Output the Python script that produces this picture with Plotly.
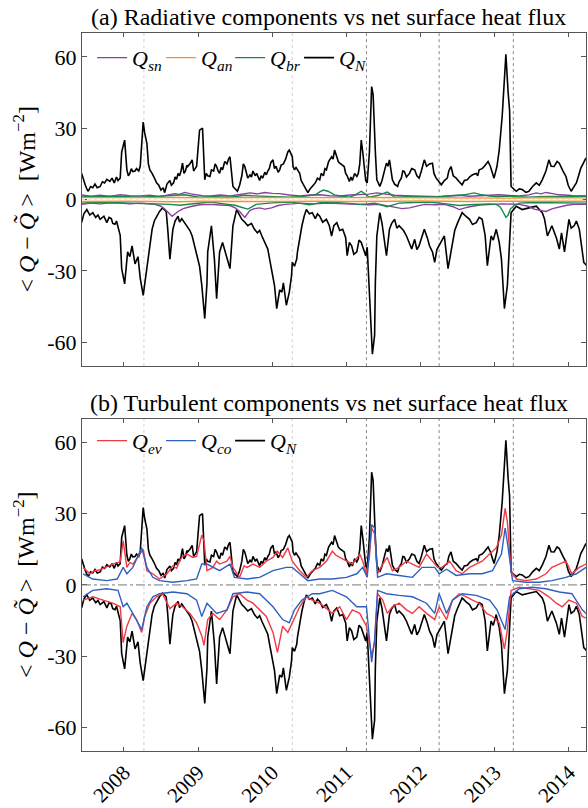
import plotly.graph_objects as go

# ---------------- data (decimal years, W m^-2) ----------------
YEARS = [2008, 2009, 2010, 2011, 2012, 2013, 2014]
YEAR_LABELS = ["2008", "2009", "2010", "2011", "2012", "2013", "2014"]
Y_TICKS = [-60, -30, 0, 30, 60]
Y_TICK_LABELS = ["-60", "-30", "0", "30", "60"]
EVENTS_LIGHT = [2008.27, 2010.27]
EVENTS_DARK = [2011.27, 2012.25, 2013.25]

# net surface heat flux Q_N: upper / lower envelope (t, value)
QN_UP = [(2007.43, 11), (2007.45, 8.5), (2007.48, 6), (2007.50, 4.5), (2007.52, 3.5), (2007.55, 5.5),
         (2007.58, 5), (2007.61, 6.5), (2007.64, 5), (2007.68, 5.5), (2007.71, 7.5), (2007.74, 7),
         (2007.77, 8.5), (2007.81, 7.6), (2007.84, 9), (2007.87, 7), (2007.90, 9.5), (2007.92, 8),
         (2007.95, 9), (2007.97, 20), (2008.01, 25), (2008.04, 12.5), (2008.06, 10), (2008.08, 11),
         (2008.10, 13), (2008.12, 11.8), (2008.15, 12), (2008.17, 13), (2008.20, 12), (2008.22, 14),
         (2008.26, 32.6), (2008.28, 28), (2008.31, 23.6), (2008.33, 15), (2008.35, 12.5), (2008.38, 11),
         (2008.40, 10), (2008.42, 8.5), (2008.44, 7), (2008.47, 6), (2008.50, 4), (2008.53, 5),
         (2008.55, 2.9), (2008.58, 6.5), (2008.62, 8), (2008.64, 6), (2008.67, 7), (2008.69, 9.5),
         (2008.71, 8.5), (2008.73, 11), (2008.75, 10), (2008.77, 12), (2008.79, 15.3), (2008.81, 11),
         (2008.83, 12), (2008.85, 14.5), (2008.86, 13.9), (2008.89, 15), (2008.92, 16.7), (2008.94, 12),
         (2008.96, 13), (2008.98, 13.9), (2009.02, 29.2), (2009.06, 30), (2009.09, 8.3), (2009.11, 11),
         (2009.13, 10), (2009.16, 9.7), (2009.18, 12.5), (2009.21, 12), (2009.23, 15), (2009.25, 13.9),
         (2009.27, 12), (2009.29, 11), (2009.31, 13.5), (2009.33, 12.5), (2009.36, 16), (2009.39, 15),
         (2009.41, 17), (2009.43, 18), (2009.47, 5.5), (2009.50, 4.5), (2009.53, 3.5), (2009.56, 6),
         (2009.59, 10), (2009.61, 15), (2009.63, 13.9), (2009.65, 11.5), (2009.67, 9), (2009.70, 10.4),
         (2009.72, 9.5), (2009.74, 12), (2009.77, 10), (2009.79, 11), (2009.81, 9.5), (2009.83, 8),
         (2009.85, 10), (2009.87, 9), (2009.90, 11.5), (2009.92, 10.4), (2009.94, 12), (2009.96, 13),
         (2009.98, 15.5), (2010.01, 16.7), (2010.03, 13), (2010.05, 14), (2010.08, 11.5), (2010.10, 12.5),
         (2010.12, 14.5), (2010.15, 15), (2010.18, 17), (2010.21, 20), (2010.23, 20.8), (2010.27, 18),
         (2010.28, 14), (2010.30, 12.5), (2010.32, 13.5), (2010.34, 12.5), (2010.37, 11), (2010.39, 8),
         (2010.41, 7), (2010.44, 5), (2010.48, 2.9), (2010.51, 4.5), (2010.54, 5.5), (2010.56, 6.5),
         (2010.58, 7), (2010.61, 9), (2010.64, 8.3), (2010.66, 11), (2010.69, 10), (2010.71, 13),
         (2010.73, 12.5), (2010.76, 16), (2010.80, 18), (2010.82, 17), (2010.84, 20.8), (2010.88, 17),
         (2010.89, 16), (2010.91, 15.3), (2010.94, 14.5), (2010.97, 13.9), (2010.99, 11), (2011.01, 10),
         (2011.04, 7.6), (2011.06, 9.5), (2011.08, 8), (2011.11, 11), (2011.14, 9.7), (2011.16, 11),
         (2011.18, 15), (2011.20, 25), (2011.22, 20), (2011.24, 12.5), (2011.26, 8), (2011.28, 7),
         (2011.31, 20), (2011.34, 47.5), (2011.36, 44), (2011.39, 20), (2011.41, 8.3), (2011.43, 7),
         (2011.45, 5.5), (2011.48, 8), (2011.50, 10), (2011.52, 13), (2011.54, 15.3), (2011.56, 14),
         (2011.58, 16.7), (2011.60, 12), (2011.62, 8.3), (2011.65, 6.5), (2011.69, 5.5), (2011.71, 7.5),
         (2011.74, 9), (2011.76, 12), (2011.78, 11.8), (2011.81, 9.5), (2011.85, 11), (2011.88, 13),
         (2011.92, 12.5), (2011.95, 10), (2011.98, 9), (2012.01, 12), (2012.05, 16.7), (2012.08, 14),
         (2012.12, 15), (2012.16, 15.3), (2012.18, 11), (2012.21, 9), (2012.25, 7.5), (2012.28, 6.2),
         (2012.32, 8), (2012.36, 9), (2012.38, 12), (2012.41, 13.9), (2012.44, 10), (2012.48, 9),
         (2012.52, 7.5), (2012.56, 6.2), (2012.59, 8), (2012.63, 8.3), (2012.66, 9.5), (2012.70, 10.4),
         (2012.75, 11), (2012.77, 10), (2012.79, 12.5), (2012.83, 13), (2012.86, 14), (2012.89, 15.3),
         (2012.91, 16), (2012.94, 14), (2012.97, 11), (2012.99, 9), (2013.03, 14), (2013.06, 20.8),
         (2013.10, 35), (2013.14, 55), (2013.15, 61), (2013.18, 45), (2013.20, 37.5), (2013.22, 5.5),
         (2013.25, 4.5), (2013.29, 3.5), (2013.33, 4.5), (2013.37, 4.2), (2013.42, 3), (2013.46, 3.5),
         (2013.51, 5.5), (2013.56, 7), (2013.60, 6), (2013.64, 8.3), (2013.69, 12), (2013.73, 16.7),
         (2013.76, 14), (2013.80, 13.9), (2013.84, 16), (2013.87, 15.3), (2013.92, 12), (2013.96, 9.7),
         (2013.99, 6), (2014.03, 3.5), (2014.06, 5), (2014.10, 7), (2014.13, 10), (2014.16, 13.2),
         (2014.19, 15), (2014.23, 17.5)]

QN_LO = [(2007.43, -9.7), (2007.46, -6), (2007.50, -4.2), (2007.54, -6.5), (2007.58, -5.5), (2007.62, -7.5),
         (2007.65, -6.5), (2007.68, -8.3), (2007.73, -7), (2007.77, -9.7), (2007.80, -7.5), (2007.83, -8),
         (2007.85, -10), (2007.88, -10.4), (2007.90, -9), (2007.92, -11), (2007.95, -15), (2007.97, -29),
         (2008.01, -35.4), (2008.05, -22), (2008.08, -24), (2008.11, -19.5), (2008.15, -27), (2008.19, -24),
         (2008.22, -33), (2008.26, -40.3), (2008.31, -27.8), (2008.35, -18), (2008.38, -12.5), (2008.41, -9),
         (2008.44, -7), (2008.48, -5), (2008.52, -3.5), (2008.57, -5), (2008.59, -12), (2008.62, -25),
         (2008.66, -12.5), (2008.69, -9), (2008.73, -7), (2008.75, -9.5), (2008.78, -8), (2008.82, -9.7),
         (2008.85, -11), (2008.89, -13), (2008.92, -15.3), (2008.95, -19), (2008.98, -22), (2009.02, -28),
         (2009.05, -36), (2009.09, -50), (2009.12, -35), (2009.13, -22), (2009.18, -11), (2009.22, -25),
         (2009.25, -41.7), (2009.29, -22), (2009.33, -18), (2009.36, -21), (2009.39, -25), (2009.43, -29),
         (2009.47, -11), (2009.52, -4.2), (2009.55, -6), (2009.59, -8.3), (2009.63, -9.5), (2009.67, -11),
         (2009.72, -10), (2009.76, -12.5), (2009.80, -14), (2009.83, -13), (2009.86, -15.3), (2009.90, -18),
         (2009.94, -20.8), (2009.97, -26), (2010.01, -33), (2010.03, -36), (2010.06, -45.8), (2010.10, -38),
         (2010.13, -38.9), (2010.15, -35), (2010.19, -44.4), (2010.23, -38.9), (2010.26, -32), (2010.27, -26.4),
         (2010.30, -28), (2010.33, -25), (2010.34, -22), (2010.37, -16), (2010.40, -11), (2010.43, -7),
         (2010.46, -4.2), (2010.50, -6), (2010.54, -5.5), (2010.58, -8), (2010.61, -6), (2010.64, -7),
         (2010.68, -9.5), (2010.73, -8.3), (2010.77, -11), (2010.80, -15.3), (2010.83, -11), (2010.87, -9.7),
         (2010.91, -13), (2010.95, -12.5), (2010.99, -16), (2011.01, -23.6), (2011.04, -18), (2011.07, -19.4),
         (2011.10, -23), (2011.14, -22), (2011.17, -17), (2011.20, -18), (2011.23, -21), (2011.26, -23.6),
         (2011.28, -20), (2011.31, -40), (2011.34, -62.5), (2011.35, -65), (2011.38, -57), (2011.39, -35),
         (2011.41, -15.3), (2011.45, -5.5), (2011.48, -10), (2011.51, -18), (2011.54, -23.6), (2011.58, -12.5),
         (2011.61, -10), (2011.65, -8.3), (2011.68, -12), (2011.71, -11), (2011.77, -13), (2011.81, -15.3),
         (2011.84, -18), (2011.88, -20.8), (2011.92, -16.7), (2011.95, -21), (2011.98, -19.4), (2012.02, -15),
         (2012.05, -12.5), (2012.09, -16), (2012.12, -19.4), (2012.16, -22), (2012.19, -26.4), (2012.22, -21),
         (2012.25, -19.4), (2012.29, -17), (2012.32, -15.3), (2012.37, -29), (2012.43, -19.4), (2012.46, -13),
         (2012.50, -9.7), (2012.56, -5.5), (2012.61, -7), (2012.66, -8.3), (2012.70, -10.5), (2012.75, -9.7),
         (2012.79, -7.5), (2012.83, -8.3), (2012.87, -15), (2012.90, -27.8), (2012.95, -15.3), (2012.98, -17),
         (2013.02, -12.5), (2013.06, -18), (2013.09, -25), (2013.13, -45.8), (2013.17, -36), (2013.20, -20),
         (2013.22, -5.5), (2013.29, -2.8), (2013.37, -4.2), (2013.46, -3.5), (2013.56, -2.8), (2013.64, -5.5),
         (2013.67, -8), (2013.71, -15.3), (2013.77, -11), (2013.83, -16), (2013.87, -20.8), (2013.90, -14),
         (2013.94, -22), (2014.00, -8.3), (2014.03, -12), (2014.07, -11), (2014.10, -9), (2014.14, -12.5),
         (2014.17, -20), (2014.20, -26.4), (2014.24, -27.8)]

# evaporative component Q_ev
QEV_UP = [(2007.45, 7.4), (2007.54, 4.7), (2007.61, 6), (2007.68, 6.4), (2007.76, 7.5), (2007.85, 8.8),
          (2007.95, 9.7), (2007.99, 18.6), (2008.04, 7.4), (2008.08, 9.5), (2008.12, 8.8), (2008.17, 11),
          (2008.22, 13), (2008.26, 15), (2008.31, 6), (2008.39, 4.7), (2008.48, 2.5), (2008.58, 4.7),
          (2008.66, 8), (2008.71, 7), (2008.75, 10), (2008.79, 12), (2008.85, 13), (2008.93, 11.6),
          (2008.98, 12), (2009.05, 21), (2009.08, 18.6), (2009.12, 6), (2009.20, 7.4), (2009.25, 10),
          (2009.29, 8.8), (2009.39, 10), (2009.43, 12), (2009.47, 7.4), (2009.56, 3.2), (2009.62, 8),
          (2009.66, 7.4), (2009.74, 8.8), (2009.83, 7.4), (2009.92, 10), (2010.01, 11.6), (2010.07, 14.2),
          (2010.14, 11.6), (2010.21, 15.6), (2010.27, 10), (2010.37, 6), (2010.46, 3.2), (2010.54, 6),
          (2010.64, 7.4), (2010.73, 10), (2010.81, 14.2), (2010.86, 12.5), (2010.91, 11.6), (2011.00, 10),
          (2011.08, 8.8), (2011.18, 13), (2011.22, 10), (2011.27, 4.7), (2011.31, 12), (2011.34, 24),
          (2011.38, 21.5), (2011.42, 4.7), (2011.49, 8.8), (2011.55, 11.6), (2011.62, 6), (2011.71, 7.4),
          (2011.81, 10), (2011.89, 8.8), (2011.98, 7.4), (2012.08, 13), (2012.16, 10), (2012.23, 7.4),
          (2012.29, 7.4), (2012.39, 10), (2012.48, 6), (2012.56, 4.7), (2012.66, 7.4), (2012.75, 8.8),
          (2012.83, 10), (2012.93, 13), (2013.02, 15.6), (2013.09, 21), (2013.14, 32.3), (2013.17, 26.6),
          (2013.22, 6), (2013.29, 2.5), (2013.42, 1.8), (2013.56, 2.5), (2013.69, 4.7), (2013.77, 7.4),
          (2013.87, 8.8), (2013.96, 10), (2014.04, 4.7), (2014.14, 7.4), (2014.23, 8.8)]

QEV_LO = [(2007.45, -6.4), (2007.58, -5), (2007.72, -6.4), (2007.85, -7.7), (2007.95, -9.2), (2007.99, -24.3),
          (2008.04, -17.4), (2008.11, -12), (2008.17, -14.6), (2008.24, -20), (2008.28, -13.3), (2008.35, -7.7),
          (2008.44, -5), (2008.52, -3.7), (2008.62, -10), (2008.71, -7.7), (2008.79, -9.2), (2008.89, -12),
          (2008.98, -16), (2009.05, -21.5), (2009.08, -25.5), (2009.13, -14.6), (2009.20, -12), (2009.29, -14.6),
          (2009.39, -10.5), (2009.47, -5), (2009.56, -3.7), (2009.66, -6.4), (2009.74, -7.7), (2009.83, -10.5),
          (2009.92, -13.3), (2010.01, -20), (2010.07, -28.4), (2010.14, -17.4), (2010.21, -20), (2010.27, -16),
          (2010.37, -9.2), (2010.46, -5), (2010.54, -6.4), (2010.64, -7.7), (2010.73, -10), (2010.81, -12),
          (2010.91, -9.2), (2011.00, -14.6), (2011.08, -10.5), (2011.18, -12), (2011.27, -17.4), (2011.34, -29.8),
          (2011.38, -24.3), (2011.42, -3.7), (2011.49, -6.4), (2011.55, -12), (2011.62, -9.2), (2011.71, -7.7),
          (2011.81, -10.5), (2011.89, -12), (2011.98, -9.2), (2012.08, -12), (2012.19, -14.6), (2012.25, -9.2),
          (2012.35, -14.6), (2012.43, -6.4), (2012.52, -3.7), (2012.62, -5), (2012.70, -6.4), (2012.79, -7.7),
          (2012.89, -12), (2012.97, -13.3), (2013.06, -16), (2013.13, -27), (2013.17, -18.8), (2013.22, -2.3),
          (2013.33, -1), (2013.46, -1.6), (2013.60, -2.3), (2013.73, -5), (2013.83, -7.7), (2013.91, -9.2),
          (2014.00, -6.4), (2014.10, -7.7), (2014.18, -13.3), (2014.23, -14)]

# conductive component Q_co
QCO_UP = [(2007.45, 4.7), (2007.58, 2.5), (2007.77, 1.8), (2007.91, 2.5), (2007.99, 7.4), (2008.04, 4.7),
          (2008.12, 7.4), (2008.24, 15.7), (2008.31, 7.4), (2008.39, 3.2), (2008.48, 1.8), (2008.66, 1.1),
          (2008.85, 1.8), (2008.98, 2.5), (2009.05, 8.8), (2009.12, 8.8), (2009.29, 6), (2009.43, 8.8),
          (2009.49, 3.2), (2009.66, 2.5), (2009.83, 3.2), (2010.01, 6), (2010.19, 7.4), (2010.27, 7.4),
          (2010.37, 4.7), (2010.48, 1.8), (2010.64, 2.5), (2010.81, 2.5), (2011.00, 3.2), (2011.14, 4.7),
          (2011.22, 7.4), (2011.28, 3.2), (2011.34, 25.4), (2011.38, 24), (2011.42, 3.2), (2011.54, 4.7),
          (2011.71, 4), (2011.89, 3.2), (2012.02, 7.4), (2012.19, 7.4), (2012.25, 4.7), (2012.35, 6.6),
          (2012.48, 4), (2012.66, 4.7), (2012.83, 4.7), (2012.97, 6), (2013.09, 13), (2013.14, 24),
          (2013.18, 15.7), (2013.24, 1.8), (2013.42, 1.1), (2013.60, 1.1), (2013.77, 1.8), (2013.96, 3.2),
          (2014.10, 4.7), (2014.23, 7.4)]

QCO_LO = [(2007.45, -5), (2007.58, -2.3), (2007.77, -1.6), (2007.92, -2.3), (2007.99, -9.2), (2008.04, -7.7),
          (2008.12, -12), (2008.24, -18.8), (2008.31, -9.2), (2008.39, -5), (2008.48, -3.7), (2008.66, -3),
          (2008.85, -3.7), (2008.98, -6.4), (2009.05, -13.3), (2009.12, -7.7), (2009.25, -12), (2009.39, -10.5),
          (2009.47, -3.7), (2009.66, -3), (2009.83, -3.7), (2010.01, -9.2), (2010.14, -14.6), (2010.23, -16),
          (2010.30, -10.5), (2010.40, -6.4), (2010.54, -3.7), (2010.64, -3.7), (2010.81, -2.3), (2011.00, -5),
          (2011.14, -9.2), (2011.27, -9.2), (2011.34, -32.6), (2011.38, -23), (2011.42, -2.3), (2011.54, -3.7),
          (2011.71, -4.4), (2011.89, -5), (2012.08, -7.7), (2012.19, -12), (2012.25, -3.7), (2012.35, -12),
          (2012.43, -6.4), (2012.56, -3.7), (2012.75, -4.4), (2012.93, -6.4), (2013.03, -10.5), (2013.14, -18.8),
          (2013.20, -5), (2013.33, -1.6), (2013.50, -1), (2013.69, -1.6), (2013.87, -3), (2014.04, -3.7),
          (2014.18, -10.5), (2014.23, -12)]

# radiative components: shortwave Q_sn, longwave Q_an, back radiation Q_br
QSN_UP = [(2007.43, 2), (2007.55, 1.4), (2007.68, 1.8), (2007.81, 1.3), (2007.95, 2), (2008.08, 1.6),
          (2008.22, 1.5), (2008.35, 1.8), (2008.48, 1.2), (2008.58, 1.9), (2008.68, 2.5), (2008.75, 2.2),
          (2008.82, 3), (2008.90, 2.4), (2008.96, 2), (2009.06, 1.6), (2009.16, 1.5), (2009.30, 1.9),
          (2009.43, 1.5), (2009.56, 2.2), (2009.70, 2.8), (2009.80, 2.4), (2009.90, 3), (2010.00, 2.6),
          (2010.10, 2.5), (2010.23, 1.9), (2010.37, 1.5), (2010.50, 1.9), (2010.64, 2), (2010.77, 1.6),
          (2010.91, 1.5), (2011.05, 1.9), (2011.18, 2), (2011.30, 2.3), (2011.41, 2.8), (2011.53, 2.2),
          (2011.65, 1.8), (2011.80, 1.6), (2011.98, 1.5), (2012.12, 1.5), (2012.25, 1.2), (2012.40, 1.6),
          (2012.52, 1.8), (2012.66, 1.4), (2012.79, 1.5), (2012.93, 1.8), (2013.06, 2), (2013.20, 1.7),
          (2013.33, 1.5), (2013.46, 2), (2013.56, 2.8), (2013.62, 2.4), (2013.69, 3), (2013.78, 2.5),
          (2013.87, 2), (2014.00, 1.8), (2014.07, 1.5), (2014.23, 1.5)]
QSN_LO = [(2007.43, -2), (2007.55, -1.5), (2007.68, -1.8), (2007.81, -1.4), (2007.95, -1.5), (2008.08, -1.8),
          (2008.22, -1.5), (2008.32, -1.8), (2008.42, -2), (2008.50, -2.8), (2008.55, -4), (2008.65, -7),
          (2008.73, -5), (2008.80, -3.8), (2008.89, -3), (2009.02, -2.2), (2009.16, -2), (2009.30, -2.3),
          (2009.43, -2.5), (2009.50, -3.5), (2009.56, -5), (2009.63, -7.5), (2009.70, -4.5), (2009.76, -3.8),
          (2009.83, -3.5), (2009.90, -4), (2009.99, -3.5), (2010.08, -2.5), (2010.17, -2), (2010.27, -1.8),
          (2010.37, -1.5), (2010.55, -1.8), (2010.77, -1.5), (2010.98, -1.8), (2011.18, -2), (2011.30, -2.2),
          (2011.45, -2), (2011.55, -2.6), (2011.65, -3), (2011.75, -3.8), (2011.85, -3.5), (2011.95, -2.6),
          (2012.05, -2), (2012.20, -2.2), (2012.32, -2), (2012.44, -3), (2012.52, -4.2), (2012.60, -3.5),
          (2012.66, -3), (2012.80, -2.3), (2012.93, -2), (2013.10, -1.8), (2013.33, -2), (2013.45, -2.8),
          (2013.53, -4), (2013.62, -4.5), (2013.69, -5), (2013.78, -3.8), (2013.87, -3), (2013.97, -2.4),
          (2014.07, -2), (2014.23, -2)]

QBR_UP = [(2007.43, 1.5), (2007.60, 1.1), (2007.81, 1.4), (2008.02, 1.1), (2008.22, 1), (2008.42, 1.3),
          (2008.62, 1.5), (2008.72, 1.8), (2008.82, 2), (2008.92, 1.5), (2009.02, 1), (2009.22, 1.2),
          (2009.43, 1), (2009.53, 1.4), (2009.63, 1.8), (2009.73, 1.6), (2009.83, 1.5), (2010.03, 1.2),
          (2010.23, 1), (2010.40, 1.3), (2010.58, 2), (2010.64, 3.2), (2010.69, 4), (2010.75, 3.5),
          (2010.84, 2), (2010.94, 1.4), (2011.04, 1), (2011.12, 2), (2011.20, 3.5), (2011.25, 2.4),
          (2011.31, 1), (2011.43, 1.8), (2011.50, 2.8), (2011.55, 3.2), (2011.60, 2.2), (2011.65, 1),
          (2011.80, 1.2), (2011.98, 1), (2012.12, 1.1), (2012.25, 1.2), (2012.42, 1.4), (2012.52, 1.8),
          (2012.59, 2), (2012.66, 2.6), (2012.72, 2.8), (2012.80, 2.2), (2012.93, 1.5), (2013.05, 1.2),
          (2013.15, 1.5), (2013.30, 1.2), (2013.46, 1), (2013.65, 1.3), (2013.87, 1.2), (2014.05, 1.3),
          (2014.23, 1.5)]
QBR_LO = [(2007.43, -1.5), (2007.60, -1.1), (2007.81, -1.2), (2008.02, -1.4), (2008.22, -1.5), (2008.42, -1.8),
          (2008.62, -2), (2008.75, -2.4), (2008.89, -2), (2009.02, -1.4), (2009.16, -1), (2009.35, -1.8),
          (2009.50, -2.4), (2009.56, -3), (2009.62, -3.6), (2009.67, -4), (2009.73, -3), (2009.78, -2),
          (2010.00, -1.4), (2010.23, -1), (2010.38, -1.6), (2010.50, -2.2), (2010.60, -1.6), (2010.69, -1),
          (2010.95, -1.4), (2011.18, -2), (2011.28, -1.8), (2011.38, -1.5), (2011.48, -2.4), (2011.55, -3),
          (2011.63, -2.2), (2011.71, -1.5), (2011.90, -1.2), (2012.12, -1), (2012.35, -1.8), (2012.45, -2.2),
          (2012.52, -2.5), (2012.65, -2.2), (2012.79, -2), (2012.93, -1.8), (2013.02, -2), (2013.07, -3),
          (2013.10, -4.5), (2013.15, -7.5), (2013.18, -6.5), (2013.21, -4), (2013.26, -2.5), (2013.33, -1.5),
          (2013.50, -1.2), (2013.73, -1.2), (2013.95, -1.4), (2014.23, -1.5)]

QAN_UP = [(2007.43, 0.8), (2007.75, 0.7), (2008.05, 0.6), (2008.40, 0.8), (2008.70, 0.9), (2009.05, 0.7),
          (2009.40, 0.7), (2009.70, 0.9), (2010.05, 0.8), (2010.40, 0.7), (2010.70, 0.6), (2011.00, 0.8),
          (2011.35, 0.9), (2011.70, 0.8), (2012.00, 0.7), (2012.35, 0.8), (2012.65, 0.8), (2013.00, 0.7),
          (2013.30, 0.6), (2013.65, 0.9), (2013.95, 0.8), (2014.23, 0.7)]
QAN_LO = [(2007.43, -0.8), (2007.75, -0.6), (2008.05, -0.7), (2008.40, -0.8), (2008.70, -0.9), (2009.05, -0.7),
          (2009.40, -0.6), (2009.70, -0.8), (2010.05, -0.8), (2010.40, -0.6), (2010.70, -0.7), (2011.00, -0.8),
          (2011.35, -0.9), (2011.70, -0.7), (2012.00, -0.6), (2012.35, -0.8), (2012.65, -0.8), (2013.00, -0.7),
          (2013.30, -0.7), (2013.65, -0.8), (2013.95, -0.8), (2014.23, -0.7)]

X_RANGE = [2007.435, 2014.23]
Y_RANGE = [-70, 70]

# ---------------- styling ----------------
FONT = "Liberation Serif"
AX = "#555555"
C_SN = "#8B3FA0"
C_AN = "#F7902A"
C_BR = "#138A4A"
C_N = "#000000"
C_EV = "#F03A45"
C_CO = "#2F5FC0"

fig = go.Figure()


def split(pairs):
    return [p[0] for p in pairs], [p[1] for p in pairs]


def add_pair(up, lo, name, color, width, xa, ya, legend):
    tu, vu = split(up)
    tl, vl = split(lo)
    fig.add_trace(go.Scatter(x=tu, y=vu, mode="lines", name=name, legendgroup=name + xa,
                             line=dict(color=color, width=width), xaxis=xa, yaxis=ya,
                             legend=legend, showlegend=True, hoverinfo="skip"))
    fig.add_trace(go.Scatter(x=tl, y=vl, mode="lines", name=name, legendgroup=name + xa,
                             line=dict(color=color, width=width), xaxis=xa, yaxis=ya,
                             legend=legend, showlegend=False, hoverinfo="skip"))


def lab(sub):
    return "<i>Q</i><sub><i>%s</i></sub>" % sub


# panel (a)
add_pair(QN_UP, QN_LO, lab("N"), C_N, 1.6, "x", "y", "legend")
add_pair(QSN_UP, QSN_LO, lab("sn"), C_SN, 1.4, "x", "y", "legend")
add_pair(QBR_UP, QBR_LO, lab("br"), C_BR, 1.4, "x", "y", "legend")
add_pair(QAN_UP, QAN_LO, lab("an"), C_AN, 1.4, "x", "y", "legend")

# panel (b)
add_pair(QN_UP, QN_LO, lab("N"), C_N, 1.6, "x2", "y2", "legend2")
add_pair(QEV_UP, QEV_LO, lab("ev"), C_EV, 1.4, "x2", "y2", "legend2")
add_pair(QCO_UP, QCO_LO, lab("co"), C_CO, 1.4, "x2", "y2", "legend2")

order_a = [lab("sn"), lab("an"), lab("br"), lab("N")]
order_b = [lab("ev"), lab("co"), lab("N")]
for tr in fig.data:
    if tr.legend == "legend":
        tr.legendrank = order_a.index(tr.name) + 1
    else:
        tr.legendrank = order_b.index(tr.name) + 1

DOM_A = [0.536, 1.0]
DOM_B = [0.0, 0.4626]

xcommon = dict(range=X_RANGE, tickvals=YEARS, ticks="inside", ticklen=4, tickcolor=AX,
               showline=True, linecolor=AX, linewidth=1, mirror="ticks",
               showgrid=False, zeroline=False)
ycommon = dict(range=Y_RANGE, tickvals=Y_TICKS, ticktext=Y_TICK_LABELS, ticks="inside",
               ticklen=5, tickcolor=AX, showline=True, linecolor=AX, linewidth=1,
               mirror="ticks", showgrid=False, zeroline=False,
               tickfont=dict(family=FONT, size=22, color="black"))

legcommon = dict(orientation="h", x=0.02, xanchor="left", yanchor="middle",
                 bgcolor="rgba(0,0,0,0)", font=dict(family=FONT, size=22),
                 itemwidth=30, tracegroupgap=0, entrywidth=24)

fig.update_layout(
    width=588, height=808,
    margin=dict(l=82, r=1, t=33, b=53),
    paper_bgcolor="white", plot_bgcolor="white",
    font=dict(family=FONT, color="black"),
    xaxis=dict(domain=[0, 1], anchor="y", showticklabels=False, **xcommon),
    yaxis=dict(domain=DOM_A, anchor="x", **ycommon),
    xaxis2=dict(domain=[0, 1], anchor="y2", ticktext=YEAR_LABELS, tickangle=-45,
                tickfont=dict(family=FONT, size=21, color="black"), **xcommon),
    yaxis2=dict(domain=DOM_B, anchor="x2", **ycommon),
    legend=dict(y=0.9654, **legcommon),
    legend2=dict(y=0.432, **legcommon),
    showlegend=True,
)

shapes = []
for xr, yr in (("x", "y domain"), ("x2", "y2 domain")):
    for ev in EVENTS_LIGHT:
        shapes.append(dict(type="line", xref=xr, yref=yr, x0=ev, x1=ev, y0=0, y1=1,
                           line=dict(color="#cfcfcf", width=1, dash="dot"), layer="below"))
    for ev in EVENTS_DARK:
        shapes.append(dict(type="line", xref=xr, yref=yr, x0=ev, x1=ev, y0=0, y1=1,
                           line=dict(color="#8a8a8a", width=1, dash="dot"), layer="below"))
shapes.append(dict(type="line", xref="x2 domain", yref="y2", x0=0, x1=1, y0=0, y1=0,
                   line=dict(color="#777777", width=1, dash="dashdot"), layer="above"))
shapes.append(dict(type="line", xref="x domain", yref="y", x0=0, x1=1, y0=0, y1=0,
                   line=dict(color="#e8e8e8", width=1, dash="dot"), layer="above"))
fig.update_layout(shapes=shapes)

YTITLE = "< <i>Q</i> − <i>Q\u0303</i> >  [Wm<sup>−2</sup>]"
annotations = [
    dict(text="(a) Radiative components vs net surface heat flux", xref="paper", yref="paper",
         x=0.49, y=1.0, xanchor="center", yanchor="bottom", yshift=1, showarrow=False,
         font=dict(family=FONT, size=24, color="black")),
    dict(text="(b) Turbulent components vs net surface heat flux", xref="paper", yref="paper",
         x=0.49, y=DOM_B[1], xanchor="center", yanchor="bottom", yshift=1, showarrow=False,
         font=dict(family=FONT, size=24, color="black")),
    dict(text=YTITLE, xref="paper", yref="paper", x=-0.115, y=sum(DOM_A) / 2,
         xanchor="center", yanchor="middle", textangle=-90, showarrow=False,
         font=dict(family=FONT, size=24, color="black")),
    dict(text=YTITLE, xref="paper", yref="paper", x=-0.115, y=sum(DOM_B) / 2,
         xanchor="center", yanchor="middle", textangle=-90, showarrow=False,
         font=dict(family=FONT, size=24, color="black")),
]
fig.update_layout(annotations=annotations)

fig.write_html("out.html")
